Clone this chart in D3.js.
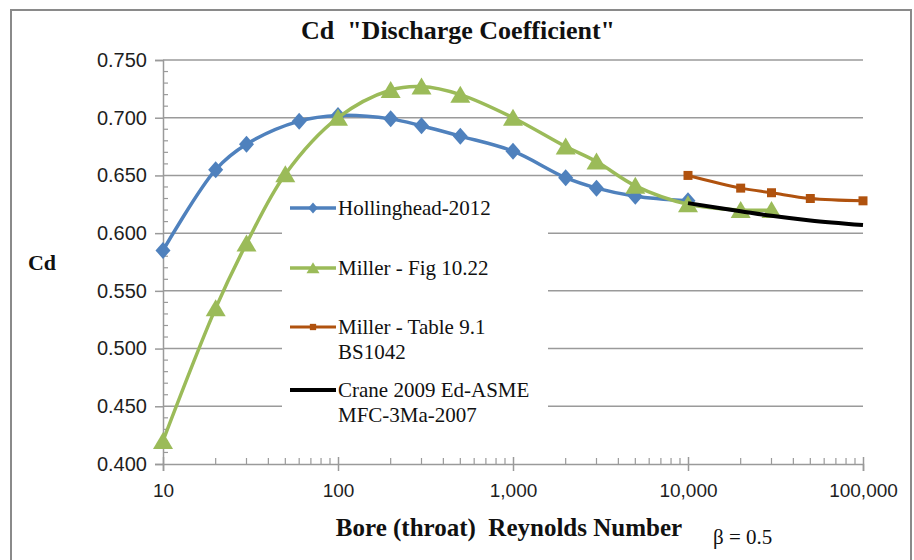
<!DOCTYPE html>
<html>
<head>
<meta charset="utf-8">
<script src="https://cdn.jsdelivr.net/npm/d3@7/dist/d3.min.js"></script>
<style>
  html, body { margin: 0; padding: 0; background: #fff; }
  svg { display: block; }
</style>
</head>
<body>
<svg id="chart" width="914" height="560"></svg>
<script>
// Reynolds numbers and discharge coefficients for each source
const hollingRe = [10, 20, 30, 60, 100, 200, 300, 500, 1000, 2000, 3000, 5000, 10000];
const hollingCd = [0.585, 0.655, 0.677, 0.697, 0.702, 0.699, 0.693, 0.684, 0.671, 0.648, 0.639, 0.632, 0.628];

const millerFigRe = [10, 20, 30, 50, 100, 200, 300, 500, 1000, 2000, 3000, 5000, 10000, 20000, 30000];
const millerFigCd = [0.420, 0.535, 0.591, 0.651, 0.700, 0.724, 0.727, 0.720, 0.700, 0.675, 0.662, 0.641, 0.625, 0.620, 0.620];

const millerTabRe = [10000, 20000, 30000, 50000, 100000];
const millerTabCd = [0.650, 0.639, 0.635, 0.630, 0.628];

const craneRe = [10000, 20000, 30000, 50000, 100000];
const craneCd = [0.626, 0.619, 0.615, 0.611, 0.607];

const yTicks = [0.400, 0.450, 0.500, 0.550, 0.600, 0.650, 0.700, 0.750];
const xTicks = [10, 100, 1000, 10000, 100000];

const legendLabels = [
  ["Hollinghead-2012"],
  ["Miller - Fig 10.22"],
  ["Miller - Table 9.1", "BS1042"],
  ["Crane 2009 Ed-ASME", "MFC-3Ma-2007"]
];

const svg = d3.select("#chart");
const plotL = 163, plotR = 863, plotT = 60, plotB = 464;

const x = d3.scaleLog().domain([10, 100000]).range([plotL, plotR]);
const y = d3.scaleLinear().domain([0.4, 0.75]).range([plotB, plotT]);

const serif = "'Liberation Serif', 'Times New Roman', serif";
const sans = "'Liberation Sans', Arial, sans-serif";
const axisGrey = "#9a9a9a";

// outer chart frame
svg.append("rect")
  .attr("x", 11).attr("y", 10).attr("width", 900).attr("height", 560)
  .attr("fill", "#fff").attr("stroke", "#8a8a8a").attr("stroke-width", 2);

// horizontal gridlines
svg.append("g").selectAll("line")
  .data(yTicks.filter(d => d > 0.4))
  .join("line")
  .attr("x1", plotL).attr("x2", plotR)
  .attr("y1", d => y(d)).attr("y2", d => y(d))
  .attr("stroke", axisGrey).attr("stroke-width", 1.5);

// y axis with major and minor ticks
const yMinor = d3.range(0, 36).map(i => 0.4 + i * 0.01).filter(v => !yTicks.some(t => Math.abs(t - v) < 1e-6));
svg.append("g").selectAll("line")
  .data(yMinor)
  .join("line")
  .attr("x1", plotL).attr("x2", plotL + 5)
  .attr("y1", d => y(d)).attr("y2", d => y(d))
  .attr("stroke", axisGrey).attr("stroke-width", 1.2);

const yAxis = svg.append("g")
  .attr("transform", `translate(${plotL},0)`)
  .call(d3.axisLeft(y).tickValues(yTicks).tickFormat(d3.format(".3f")).tickSize(8).tickPadding(8));
yAxis.select(".domain").attr("stroke", axisGrey).attr("stroke-width", 1.5);
yAxis.selectAll(".tick line").attr("stroke", axisGrey).attr("stroke-width", 1.5);
yAxis.selectAll(".tick text")
  .attr("font-family", sans).attr("font-size", 20).attr("fill", "#1e1e1e");

// x axis (log) with decade ticks and minor ticks
const xMinor = [];
[10, 100, 1000, 10000].forEach(dec => { for (let k = 2; k <= 9; k++) xMinor.push(dec * k); });
svg.append("g").selectAll("line")
  .data(xMinor)
  .join("line")
  .attr("x1", d => x(d)).attr("x2", d => x(d))
  .attr("y1", plotB).attr("y2", plotB - 6)
  .attr("stroke", axisGrey).attr("stroke-width", 1.2);

const xAxis = svg.append("g")
  .attr("transform", `translate(0,${plotB})`)
  .call(d3.axisBottom(x).tickValues(xTicks).tickFormat(d3.format(",")).tickSize(7).tickPadding(13));
xAxis.select(".domain").attr("stroke", axisGrey).attr("stroke-width", 1.5);
xAxis.selectAll(".tick line").attr("stroke", axisGrey).attr("stroke-width", 1.5).attr("y1", -7);
xAxis.selectAll(".tick text")
  .attr("font-family", sans).attr("font-size", 19).attr("fill", "#1e1e1e");

// series, drawn as smoothed lines through the markers
const line = d3.line().x(d => x(d[0])).y(d => y(d[1])).curve(d3.curveCatmullRom.alpha(0.5));

const series = [
  { re: hollingRe, cd: hollingCd, color: "#4f81bd", width: 3.5, marker: "diamond" },
  { re: millerFigRe, cd: millerFigCd, color: "#9bbb59", width: 3.5, marker: "triangle" },
  { re: millerTabRe, cd: millerTabCd, color: "#b0520e", width: 3, marker: "square" },
  { re: craneRe, cd: craneCd, color: "#000000", width: 4, marker: null }
];

function markerPath(type) {
  if (type === "diamond") return "M0,-8.5L7.5,0L0,8.5L-7.5,0Z";
  if (type === "triangle") return "M0,-9L10,8L-10,8Z";
  if (type === "square") return "M-4.5,-4.5H4.5V4.5H-4.5Z";
  return null;
}

series.forEach(s => {
  const pts = s.re.map((r, i) => [r, s.cd[i]]);
  svg.append("path")
    .attr("d", line(pts))
    .attr("fill", "none")
    .attr("stroke", s.color)
    .attr("stroke-width", s.width)
    .attr("stroke-linejoin", "round");
  if (s.marker) {
    svg.append("g").selectAll("path")
      .data(pts)
      .join("path")
      .attr("transform", d => `translate(${x(d[0])},${y(d[1])})`)
      .attr("d", markerPath(s.marker))
      .attr("fill", s.color);
  }
});

// legend
const lg = svg.append("g");
lg.append("rect")
  .attr("x", 282).attr("y", 186).attr("width", 266).attr("height", 250)
  .attr("fill", "#fff");
const legendY = [208, 268, 327, 390];
series.forEach((s, i) => {
  const ly = legendY[i];
  lg.append("line")
    .attr("x1", 290).attr("x2", 336).attr("y1", ly).attr("y2", ly)
    .attr("stroke", s.color).attr("stroke-width", s.width);
  if (s.marker) {
    const sc = s.marker === "square" ? 0.7 : 0.65;
    lg.append("path")
      .attr("transform", `translate(313,${ly}) scale(${sc})`)
      .attr("d", markerPath(s.marker))
      .attr("fill", s.color);
  }
  const t = lg.append("text")
    .attr("x", 338).attr("y", ly + 7)
    .attr("font-family", serif).attr("font-size", 21).attr("fill", "#111");
  legendLabels[i].forEach((txt, j) => {
    t.append("tspan").attr("x", 338).attr("dy", j === 0 ? 0 : 25).text(txt);
  });
});

// titles
svg.append("text")
  .attr("x", 458).attr("y", 39).attr("text-anchor", "middle")
  .attr("font-family", serif).attr("font-weight", "bold").attr("font-size", 26)
  .attr("fill", "#111").attr("xml:space", "preserve")
  .text("Cd  \"Discharge Coefficient\"");

svg.append("text")
  .attr("x", 509).attr("y", 536).attr("text-anchor", "middle")
  .attr("font-family", serif).attr("font-weight", "bold").attr("font-size", 25)
  .attr("fill", "#111").attr("xml:space", "preserve")
  .text("Bore (throat)  Reynolds Number");

svg.append("text")
  .attr("x", 713).attr("y", 544)
  .attr("font-family", serif).attr("font-size", 21).attr("fill", "#111")
  .text("β = 0.5");

svg.append("text")
  .attr("x", 42).attr("y", 270).attr("text-anchor", "middle")
  .attr("font-family", serif).attr("font-weight", "bold").attr("font-size", 22)
  .attr("fill", "#111")
  .text("Cd");
</script>
</body>
</html>
